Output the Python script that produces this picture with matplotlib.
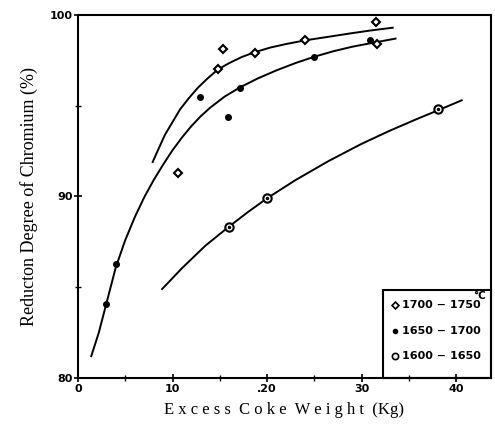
import matplotlib
matplotlib.use('Agg')
import matplotlib.pyplot as plt
from matplotlib.patches import Rectangle

# ── data ───────────────────────────────────────────────────────────────────────
# measured points, coke weight (kg) vs reduction degree (%)
x_1700 = [10.6, 14.8, 15.3, 18.7, 24.0, 31.5, 31.6]
y_1700 = [91.3, 97.0, 98.1, 97.9, 98.6, 99.6, 98.4]

x_1650 = [3.0, 4.0, 12.9, 15.9, 17.1, 25.0, 30.9]
y_1650 = [84.1, 86.3, 95.5, 94.4, 96.0, 97.7, 98.6]

x_1600 = [16.0, 20.0, 38.1]
y_1600 = [88.3, 89.9, 94.8]

# hand-drawn trend curves (traced)
cx_1700 = [7.9, 8.5, 9.2, 10.0, 10.8, 11.7, 12.7, 13.7, 14.8, 16.0, 17.3,
           18.7, 20.3, 22.0, 24.0, 26.5, 29.0, 31.0, 33.3]
cy_1700 = [91.9, 92.6, 93.4, 94.1, 94.8, 95.4, 96.0, 96.5, 97.0, 97.35, 97.68,
           97.95, 98.2, 98.4, 98.6, 98.8, 99.0, 99.15, 99.3]

cx_1650 = [1.4, 2.2, 3.0, 4.0, 5.0, 6.0, 7.0, 8.0, 9.0, 10.0, 11.0, 12.0,
           13.0, 14.0, 15.5, 17.1, 19.0, 21.0, 23.0, 25.0, 27.0, 29.0, 31.0, 33.6]
cy_1650 = [81.2, 82.5, 84.1, 86.1, 87.6, 88.85, 89.95, 90.9, 91.75, 92.55, 93.25,
           93.88, 94.43, 94.9, 95.5, 96.0, 96.5, 96.95, 97.35, 97.7, 98.0, 98.25,
           98.45, 98.7]

cx_1600 = [8.9, 11.0, 13.5, 16.0, 18.0, 20.0, 23.0, 26.5, 30.0, 33.1, 36.0, 38.1, 40.6]
cy_1600 = [84.9, 86.05, 87.3, 88.35, 89.15, 89.9, 90.9, 91.95, 92.9, 93.65, 94.3,
           94.75, 95.3]

x_ticks = [0, 10, 20, 30, 40]
x_tick_labels = ["0", "10", ".20", "30", "40"]
y_ticks = [80, 90, 100]
legend_labels = ["1700 \u2212 1750", "1650 \u2212 1700", "1600 \u2212 1650"]

# ── plot ───────────────────────────────────────────────────────────────────────
fig = plt.figure(figsize=(4.95, 4.34), dpi=100)
ax = fig.add_axes([78 / 495, 56 / 434, 413 / 495, 363 / 434])

lw = 1.4
ax.plot(cx_1700, cy_1700, color="black", lw=lw, zorder=2)
ax.plot(cx_1650, cy_1650, color="black", lw=lw, zorder=2)
ax.plot(cx_1600, cy_1600, color="black", lw=lw, zorder=2)

ax.plot(x_1700, y_1700, ls="none", marker="D", ms=4.5, mfc="white",
        mec="black", mew=1.5, zorder=3)
ax.plot(x_1650, y_1650, ls="none", marker="o", ms=4, color="black", zorder=3)
ax.plot(x_1600, y_1600, ls="none", marker="o", ms=6, mfc="white",
        mec="black", mew=1.5, zorder=3)
ax.plot(x_1600, y_1600, ls="none", marker="o", ms=1.5, color="black", zorder=4)

ax.set_xlim(0, 43.7)
ax.set_ylim(80, 100)
ax.set_xticks(x_ticks)
ax.set_xticklabels(x_tick_labels)
ax.set_xticks([5, 15, 25, 35], minor=True)
ax.set_yticks(y_ticks)
ax.set_yticks([85, 95], minor=True)
ax.tick_params(which="major", direction="inout", length=6, width=1.2,
               labelsize=8, pad=1)
ax.tick_params(which="minor", direction="inout", length=4, width=1.0)
for lab in ax.get_xticklabels() + ax.get_yticklabels():
    lab.set_fontweight("bold")
for s in ax.spines.values():
    s.set_linewidth(1.5)

ax.set_xlabel("E x c e s s  C o k e  W e i g h t  (Kg)", family="Liberation Serif",
              fontsize=12, labelpad=6)
ax.set_ylabel("Reducton Degree of Chromium (%)", family="Liberation Serif",
              fontsize=13, labelpad=8)

# legend box drawn in the lower-right corner
ax.add_patch(Rectangle((32.3, 80), 43.7 - 32.3, 4.85, fill=False,
                       ec="black", lw=1.5, zorder=5, clip_on=False))
ax.text(43.2, 84.5, "\u00b0C", ha="right", va="center", fontsize=7.5,
        fontweight="bold", zorder=6)
ly = [84.0, 82.6, 81.2]
mk = [dict(marker="D", ms=3.5, mfc="white", mec="black", mew=1.2),
      dict(marker="o", ms=3, color="black"),
      dict(marker="o", ms=4.5, mfc="white", mec="black", mew=1.2)]
for yy, lab, m in zip(ly, legend_labels, mk):
    ax.plot([33.5], [yy], ls="none", zorder=6, clip_on=False, **m)
    ax.text(34.3, yy, lab, ha="left", va="center", fontsize=8,
            fontweight="bold", zorder=6)

plt.savefig("out.png", dpi=100)
